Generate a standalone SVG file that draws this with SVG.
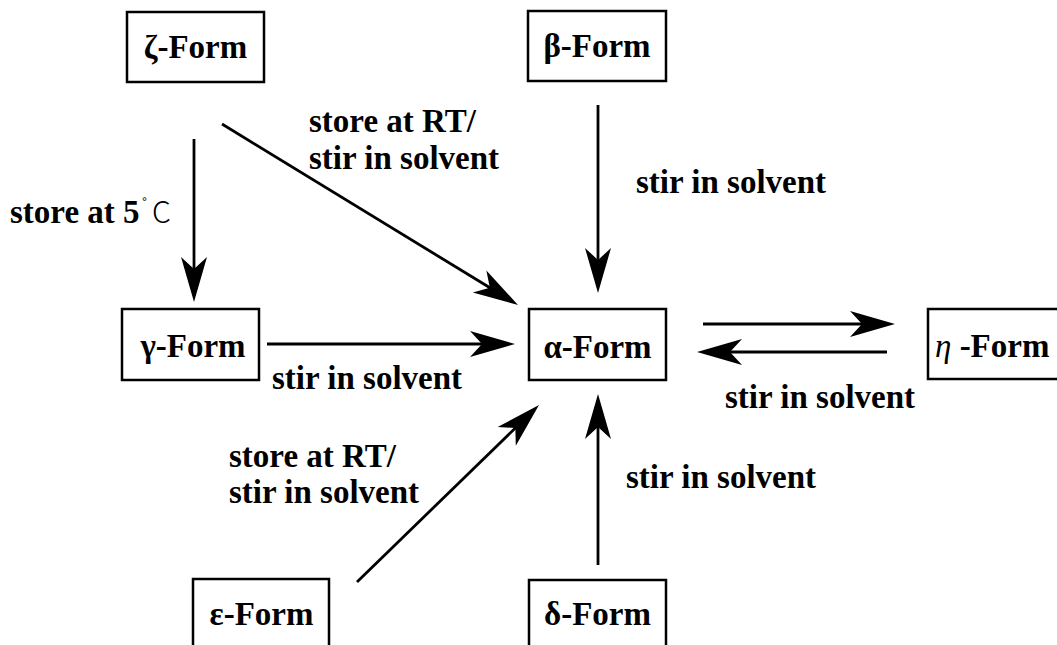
<svg xmlns="http://www.w3.org/2000/svg" width="1057" height="645" viewBox="0 0 1057 645">
<style>
.box{fill:#fff;stroke:#000;stroke-width:2.5}
.t{font-family:'Liberation Serif','Times New Roman',Times,'DejaVu Serif',serif;font-weight:700;font-size:33px;fill:#000}
.c{fill:none;stroke:#000;stroke-width:2.8}
</style>
<defs>
<marker id="ah" markerUnits="userSpaceOnUse" markerWidth="60" markerHeight="40" refX="0" refY="0" orient="auto" overflow="visible">
<path d="M-15,-13 L30,0 L-15,13 L-3,0 Z" fill="#000"/>
</marker>
</defs>
<rect width="1057" height="645" fill="#fff"/>
<g id="connectors">
<line class="c" x1="194" y1="139" x2="194" y2="272" marker-end="url(#ah)"/>
<line class="c" x1="222" y1="124" x2="492.4" y2="289.3" marker-end="url(#ah)"/>
<line class="c" x1="598" y1="105" x2="598" y2="263" marker-end="url(#ah)"/>
<line class="c" x1="267" y1="344" x2="485" y2="344" marker-end="url(#ah)"/>
<line class="c" x1="703" y1="324" x2="865" y2="324" marker-end="url(#ah)"/>
<line class="c" x1="887" y1="352" x2="727" y2="352" marker-end="url(#ah)"/>
<line class="c" x1="357" y1="582" x2="517.5" y2="425.9" marker-end="url(#ah)"/>
<line class="c" x1="598" y1="565" x2="598" y2="424" marker-end="url(#ah)"/>
<text class="t" x="10" y="223">store at 5<tspan font-size="18" font-weight="400" dx="2" dy="-12">˚</tspan><tspan font-family="'Noto Sans CJK JP','DejaVu Sans',sans-serif" font-weight="300" font-size="30" x="152" dy="12">C</tspan></text>
<text class="t" x="309" y="132">store at RT/</text>
<text class="t" x="309" y="169">stir in solvent</text>
<text class="t" x="636" y="193">stir in solvent</text>
<text class="t" x="272" y="389">stir in solvent</text>
<text class="t" x="725" y="408">stir in solvent</text>
<text class="t" x="229" y="467">store at RT/</text>
<text class="t" x="229" y="503">stir in solvent</text>
<text class="t" x="626" y="488">stir in solvent</text>
</g>
<g id="zeta"><rect class="box" x="127" y="12" width="137" height="70"/><text class="t" x="195.5" y="58" text-anchor="middle">ζ-Form</text></g>
<g id="beta"><rect class="box" x="528" y="11" width="138" height="70"/><text class="t" x="597" y="57" text-anchor="middle">β-Form</text></g>
<g id="alpha"><rect class="box" x="529" y="309" width="137" height="71"/><text class="t" x="597.5" y="358" text-anchor="middle">α-Form</text></g>
<g id="gamma"><rect class="box" x="122" y="309" width="137" height="71"/><text class="t" x="193" y="357" text-anchor="middle">γ-Form</text></g>
<g id="eta"><rect class="box" x="928" y="309" width="160" height="70"/><text class="t" x="935" y="357"><tspan font-style="italic" font-weight="400">η</tspan> -Form</text></g>
<g id="epsilon"><rect class="box" x="193" y="579" width="136" height="90"/><text class="t" x="261.5" y="625" text-anchor="middle">ε-Form</text></g>
<g id="delta"><rect class="box" x="529" y="580" width="137" height="90"/><text class="t" x="597.5" y="625" text-anchor="middle">δ-Form</text></g>
</svg>
